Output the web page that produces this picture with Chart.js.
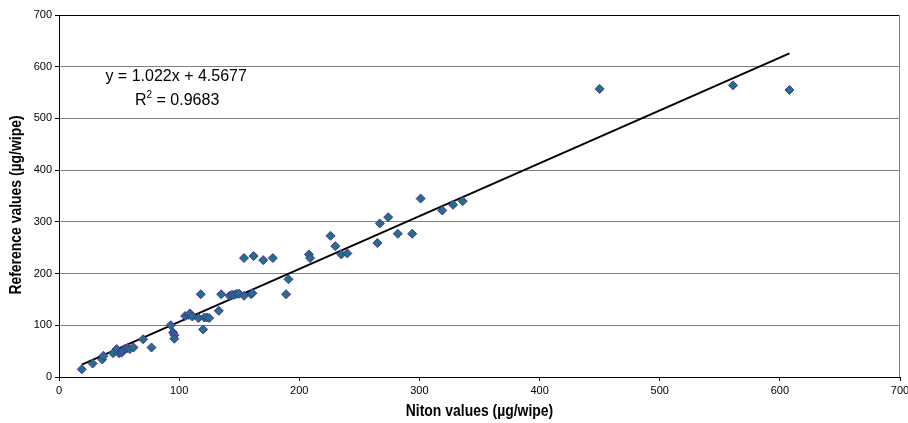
<!DOCTYPE html>
<html>
<head>
<meta charset="utf-8">
<script src="https://cdn.jsdelivr.net/npm/chart.js@4.4.1/dist/chart.umd.min.js"></script>
<style>
  html, body { margin: 0; padding: 0; background: #fff; }
  #wrap { width: 908px; height: 423px; position: relative; }
</style>
</head>
<body>
<div id="wrap"><canvas id="chart" width="908" height="423"></canvas></div>
<script>
// Niton (x) and reference (y) values, µg/wipe
const nitonValues = [
  19, 28, 36, 37, 45, 48, 50, 52, 53, 55, 57, 59, 62, 70, 77,
  93, 95, 96, 96, 105, 108, 109, 111, 116, 118, 120, 121, 123, 125,
  133, 135, 142, 144, 146, 148, 150, 154, 160, 161,
  154, 162, 170, 178, 189, 191, 208, 209, 226, 230, 235, 240,
  265, 267, 274, 282, 294, 301, 319, 328, 336,
  450, 561, 608
];
const referenceValues = [
  15, 26, 34, 41, 46, 54, 46, 47, 51, 54, 56, 54, 57, 73, 57,
  100, 86, 81, 74, 118, 120, 123, 117, 114, 160, 92, 115, 115, 114,
  128, 160, 157, 159, 159, 161, 161, 157, 160, 162,
  230, 234, 226, 230, 160, 189, 237, 230, 273, 253, 237, 239,
  259, 297, 309, 277, 277, 345, 322, 333, 340,
  557, 564, 555
];

// trendline shown on the chart: y = 1.022x + 4.5677
const trendSlope = 1.022;
const trendIntercept = 4.5677;
const trendX = [19, 608];

const xTicks = [0, 100, 200, 300, 400, 500, 600, 700];
const yTicks = [0, 100, 200, 300, 400, 500, 600, 700];

const xTitle = 'Niton values (\u00B5g/wipe)';
const yTitle = 'Reference values (\u00B5g/wipe)';

const points = nitonValues.map((x, i) => ({ x: x, y: referenceValues[i] }));
const trend = trendX.map(x => ({ x: x, y: trendSlope * x + trendIntercept }));

const tickFont = { family: "'Liberation Sans', Arial, sans-serif", size: 11 };
const titleFont = "bold 17px 'Liberation Sans', Arial, sans-serif";
const eqFont = "16px 'Liberation Sans', Arial, sans-serif";

// narrow bold axis titles, equation label and right border of the plot
const extras = {
  id: 'extras',
  afterDraw(chart) {
    const c = chart.ctx;
    const a = chart.chartArea;
    const xs = chart.scales.x, ys = chart.scales.y;
    c.save();
    c.strokeStyle = '#808080';
    c.lineWidth = 1;
    c.beginPath();
    c.moveTo(Math.round(a.right) - 0.5, a.top);
    c.lineTo(Math.round(a.right) - 0.5, a.bottom);
    c.stroke();

    c.fillStyle = '#000';
    c.textBaseline = 'middle';
    c.textAlign = 'center';

    // axis titles (condensed look)
    c.font = titleFont;
    c.save();
    c.translate((a.left + a.right) / 2, 411);
    c.scale(0.82, 1);
    c.fillText(xTitle, 0, 0);
    c.restore();

    c.save();
    c.translate(16, 205);
    c.rotate(-Math.PI / 2);
    c.scale(0.82, 1);
    c.fillText(yTitle, 0, 0);
    c.restore();

    // trendline equation
    c.font = eqFont;
    const cx = xs.getPixelForValue(97.5);
    c.fillText('y = 1.022x + 4.5677', cx, ys.getPixelForValue(580));

    const y2 = ys.getPixelForValue(534);
    const partA = 'R', partB = '2', partC = ' = 0.9683';
    c.font = eqFont;
    const wA = c.measureText(partA).width;
    const wC = c.measureText(partC).width;
    c.font = "10px 'Liberation Sans', Arial, sans-serif";
    const wB = c.measureText(partB).width;
    let sx = cx + 1 - (wA + wB + wC) / 2;
    c.textAlign = 'left';
    c.font = eqFont;
    c.fillText(partA, sx, y2);
    c.font = "10px 'Liberation Sans', Arial, sans-serif";
    c.fillText(partB, sx + wA, y2 - 6);
    c.font = eqFont;
    c.fillText(partC, sx + wA + wB, y2);
    c.restore();
  }
};

new Chart(document.getElementById('chart'), {
  type: 'scatter',
  data: {
    datasets: [
      {
        label: 'Samples',
        data: points,
        pointStyle: 'rectRot',
        pointRadius: 4.5,
        pointHoverRadius: 4.5,
        backgroundColor: '#23708c',
        borderColor: '#4b2f96',
        borderWidth: 1
      },
      {
        label: 'Trend',
        type: 'line',
        data: trend,
        showLine: true,
        pointRadius: 0,
        borderColor: '#000',
        borderWidth: 2,
        fill: false
      }
    ]
  },
  options: {
    responsive: false,
    animation: false,
    events: [],
    layout: { autoPadding: false, padding: { left: 0, top: 15, right: 8, bottom: 0 } },
    plugins: { legend: { display: false }, tooltip: { enabled: false } },
    scales: {
      x: {
        type: 'linear',
        min: 0,
        max: 700,
        afterBuildTicks: s => { s.ticks = xTicks.map(v => ({ value: v })); },
        afterFit: s => { s.height = 46; s.paddingLeft = 0; s.paddingRight = 0; },
        ticks: { font: tickFont, color: '#000', padding: 3, maxRotation: 0 },
        grid: { drawOnChartArea: false, drawTicks: true, tickLength: 4, tickColor: '#000' },
        border: { color: '#000', width: 1 },
        title: { display: false }
      },
      y: {
        type: 'linear',
        min: 0,
        max: 700,
        afterBuildTicks: s => { s.ticks = yTicks.map(v => ({ value: v })); },
        afterFit: s => { s.width = 59; s.paddingTop = 0; s.paddingBottom = 0; },
        ticks: { font: tickFont, color: '#000', padding: 3 },
        grid: {
          color: ctx => ctx.tick && ctx.tick.value === 700 ? '#000' : '#808080',
          lineWidth: 1,
          drawTicks: true,
          tickLength: 4,
          tickColor: '#000'
        },
        border: { color: '#000', width: 1 },
        title: { display: false }
      }
    }
  },
  plugins: [extras]
});
</script>
</body>
</html>
